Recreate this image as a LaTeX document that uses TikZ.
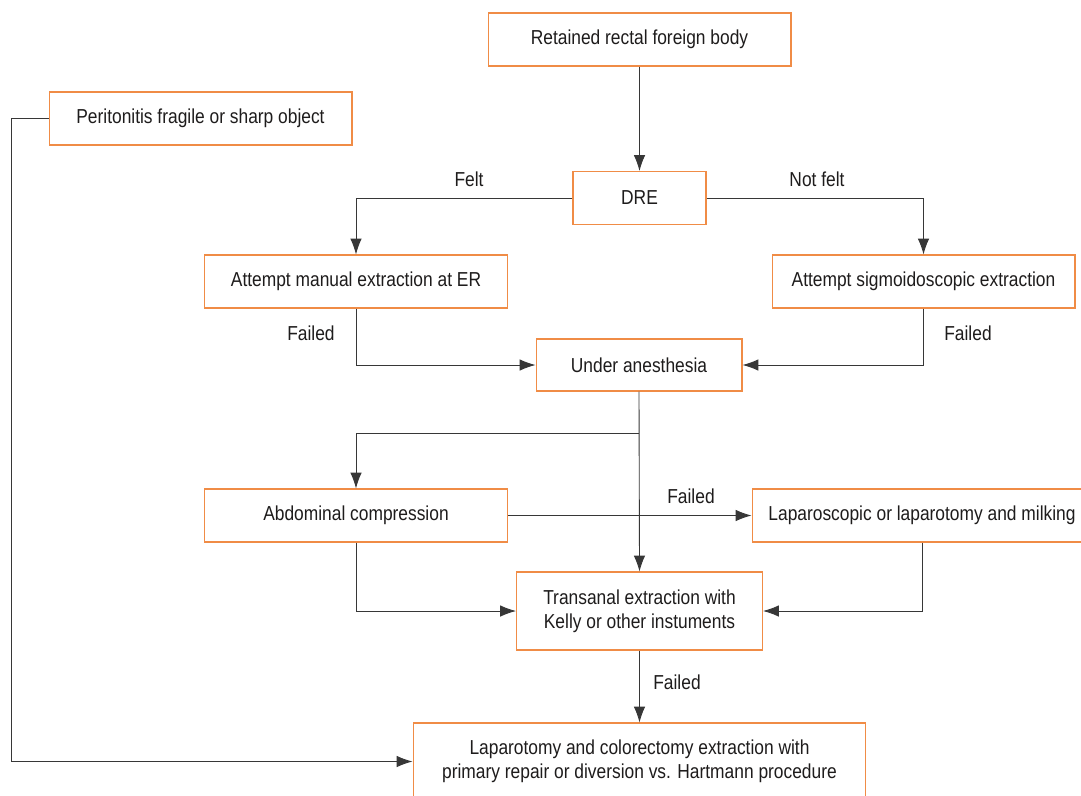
\documentclass[tikz,border=0pt]{standalone}
\usepackage{fontspec}
\setmainfont{Liberation Sans}[FakeStretch=0.86]
\usetikzlibrary{positioning,arrows.meta}
\definecolor{boxorange}{RGB}{240,140,70}
\definecolor{linegray}{RGB}{55,55,55}
\definecolor{inkgray}{RGB}{30,28,28}

\begin{document}
\begin{tikzpicture}[x=0.02cm,y=-0.02cm,>={Latex[length=9pt,width=6.5pt]},
  box/.style={draw=boxorange,line width=0.6pt,minimum height=1.06cm,inner sep=0pt,
    align=center,text=inkgray,font=\fontsize{11.5}{13.6}\selectfont},
  link/.style={draw=linegray,line width=0.5pt},
  lbl/.style={text=inkgray,font=\fontsize{11.5}{13.6}\selectfont}]
  \useasboundingbox (0,0) rectangle (1081,795);
  \clip (0,0) rectangle (1081,795);
  \fill[white] (0,0) rectangle (1081,795);
  % boxes
  \node[box,minimum width=6.06cm] (rfb) at (639.5,39.5) {Retained rectal foreign body};
  \node[box,minimum width=6.06cm] (perit) at (200.5,118.5) {Peritonitis fragile or sharp object};
  \node[box,minimum width=2.66cm] (dre) at (639.5,198) {DRE};
  \node[box,minimum width=6.06cm] (manual) at (356,281.5) {Attempt manual extraction at ER};
  \node[box,minimum width=6.06cm] (sigmo) at (923.5,281.5) {Attempt sigmoidoscopic extraction};
  \node[box,minimum width=4.12cm,minimum height=1.04cm] (anes) at (639,365) {Under anesthesia};
  \node[box,minimum width=6.06cm] (abdo) at (356,515.5) {Abdominal compression};
  \node[box,minimum width=6.8cm] (lapa) at (922,515.5) {Laparoscopic or laparotomy and milking};
  \node[box,minimum width=4.92cm,minimum height=1.56cm] (trans) at (639.5,611)
    {Transanal extraction with\\Kelly or other instuments};
  \node[box,minimum width=9.06cm,minimum height=1.54cm] (final) at (639.5,761.5)
    {Laparotomy and colorectomy extraction with\\primary repair or diversion vs. Hartmann procedure};
  \coordinate (split) at (639,433);
  % links
  \draw[link,->] (rfb) -- (dre);
  \draw[link,->] (dre.west) -| (manual.north);
  \draw[link,->] (dre.east) -| (sigmo.north);
  \draw[link,->] (manual.south) |- (anes.west);
  \draw[link,->] (sigmo.south) |- (anes.east);
  \draw[link,->] (anes.south) -- (trans.north);
  \draw[link,->] (split) -| (abdo.north);
  \draw[link,->] (abdo.east) -- (lapa.west);
  \draw[link,->] (abdo.south) |- (trans.west);
  \draw[link,->] (lapa.south) |- (trans.east);
  \draw[link,->] (trans.south) -- (final.north);
  \draw[link,->] (perit.west) -- ++(-37,0) |- (final.west);
  % labels
  \node[lbl] (felt) at (469,179) {Felt};
  \node[lbl] (notfelt) at (817,179) {Not felt};
  \node[lbl] (failA) at (311,333) {Failed};
  \node[lbl] (failB) at (968,333) {Failed};
  \node[lbl] (failC) at (691,496) {Failed};
  \node[lbl] (failD) at (677,682) {Failed};
\end{tikzpicture}
\end{document}
